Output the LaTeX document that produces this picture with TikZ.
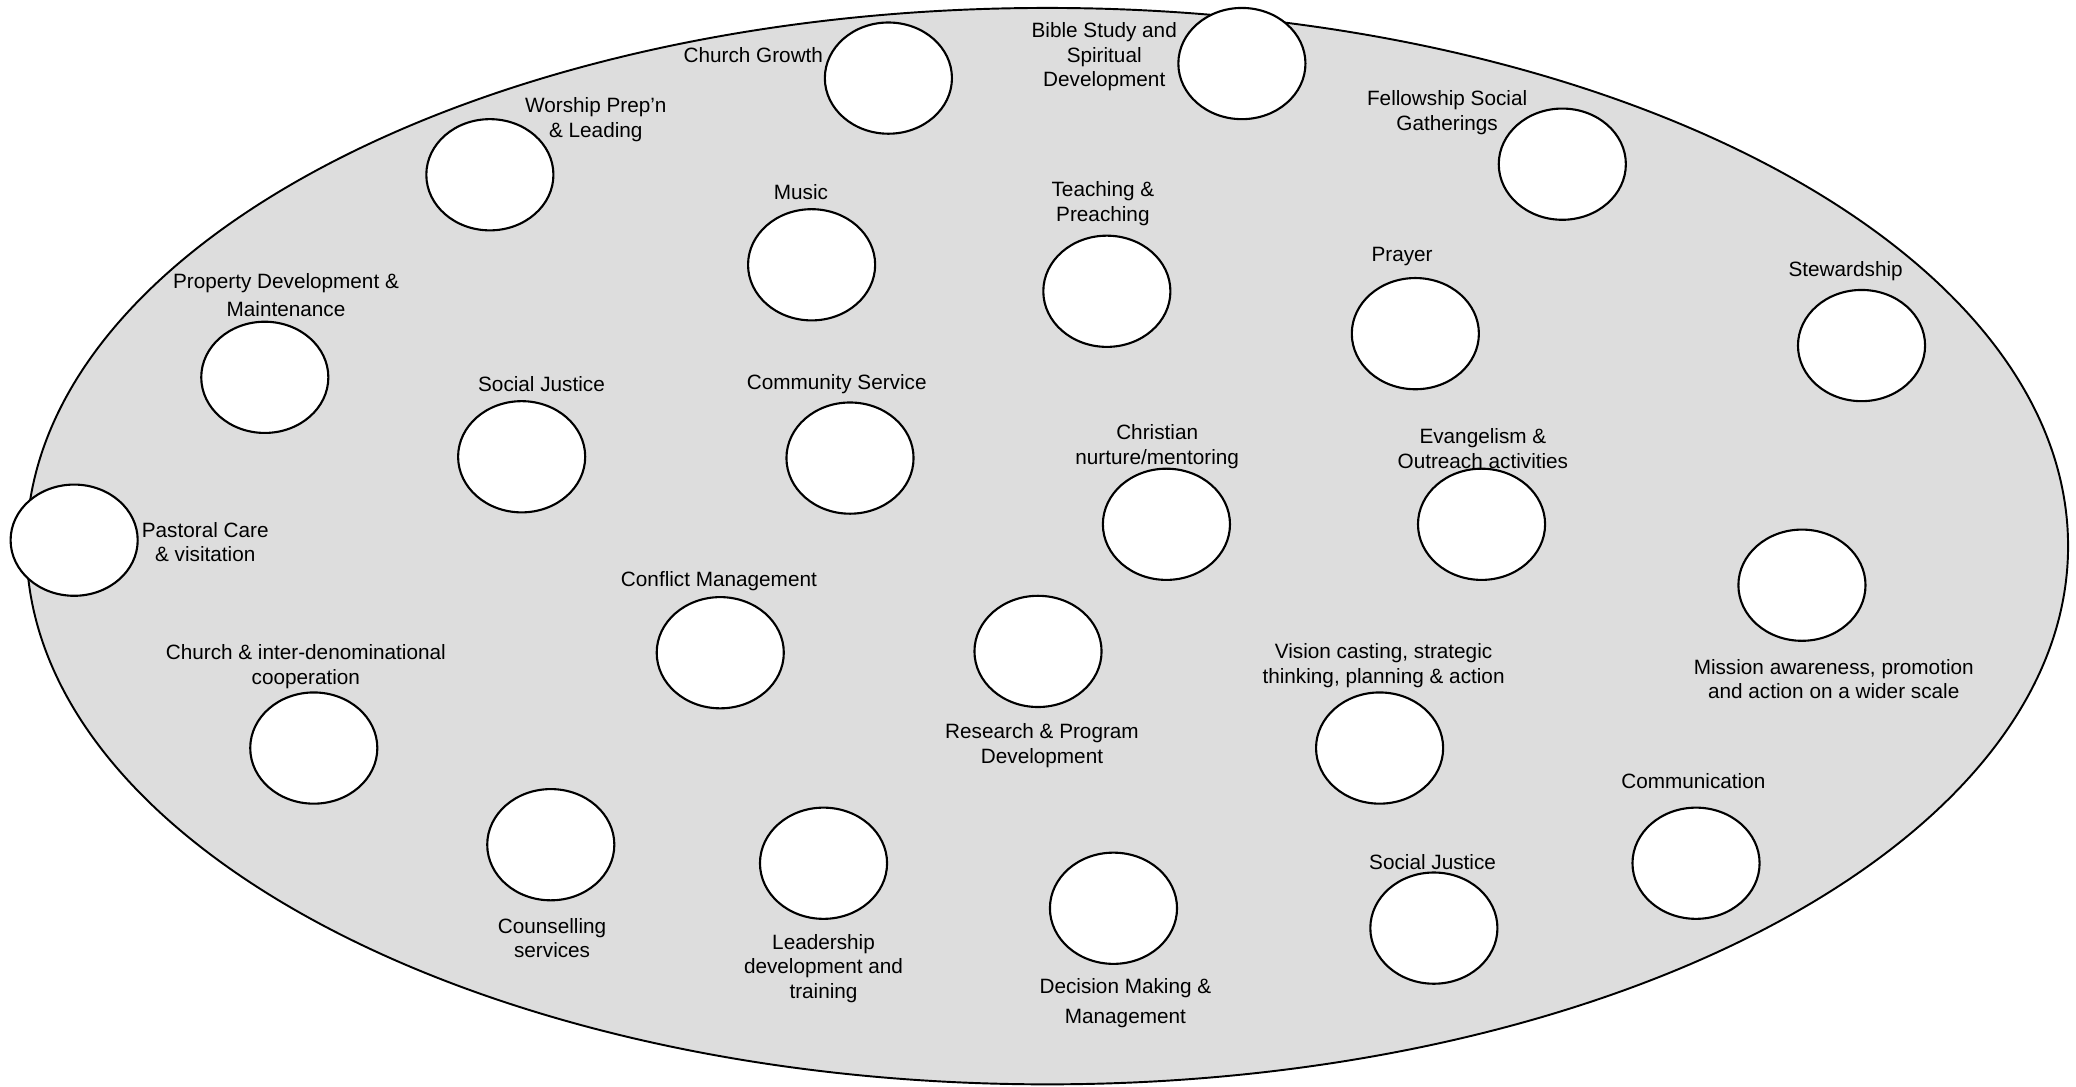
\documentclass[tikz,border=0pt]{standalone}
\usepackage{fontspec}
\setmainfont{Liberation Sans}
\usetikzlibrary{shapes.geometric}
\definecolor{fieldgray}{HTML}{DDDDDD}
\tikzset{
  field/.style={ellipse, draw=black, fill=fieldgray, line width=0.55pt, inner sep=0pt,
    minimum width=1542*0.01324cm, minimum height=813*0.01324cm},
  spot/.style={ellipse, draw=black, fill=white, line width=0.6pt, inner sep=0pt,
    minimum width=96*0.01324cm, minimum height=84*0.01324cm},
  lab/.style={align=center, inner sep=0pt, yshift=-0.025cm, font=\fontsize{5.9}{7}\selectfont}
}
\begin{document}
\begin{tikzpicture}[x=0.01324cm, y=-0.01324cm]
\useasboundingbox (0,0) rectangle (1568,821);
\node[field] (field) at (791,412.5) {};
% circles
\node[spot] (ccg) at (671,59) {};
\node[spot] (cbs) at (938,48) {};
\node[spot] (cwp) at (370,132) {};
\node[spot] (cfs) at (1180,124) {};
\node[spot] (cmu) at (613,200) {};
\node[spot] (ctp) at (836,220) {};
\node[spot] (cpr) at (1069,252) {};
\node[spot] (cst) at (1406,261) {};
\node[spot] (cpd) at (200,285) {};
\node[spot] (csja) at (394,345) {};
\node[spot] (ccs) at (642,346) {};
\node[spot] (ccn) at (881,396) {};
\node[spot] (cev) at (1119,396) {};
\node[spot] (cpc) at (56,408) {};
\node[spot] (cma) at (1361,442) {};
\node[spot] (ccm) at (544,493) {};
\node[spot] (crp) at (784,492) {};
\node[spot] (cci) at (237,565) {};
\node[spot] (cvc) at (1042,565) {};
\node[spot] (cco) at (416,638) {};
\node[spot] (cld) at (622,652) {};
\node[spot] (ccmm) at (1281,652) {};
\node[spot] (cdm) at (841,686) {};
\node[spot] (csjb) at (1083,701) {};
% labels
\node[lab] (lcg) at (569,40) {Church Growth};
\node[lab] (lbs) at (834,41) {Bible Study and\\Spiritual\\Development};
\node[lab] (lwp) at (450,88.5) {Worship Prep’n\\\& Leading};
\node[lab] (lfs) at (1093,83) {Fellowship Social\\Gatherings};
\node[lab] (lmu) at (605,143) {Music};
\node[lab] (ltp) at (833,152) {Teaching \&\\Preaching};
\node[lab] (lpr) at (1059,192) {Prayer};
\node[lab] (lst) at (1394,203) {Stewardship};
\node[lab] (lpd) at (216,221) {Property Development \&\\[1.2pt]Maintenance};
\node[lab] (lsja) at (409,288) {Social Justice};
\node[lab] (lcs) at (632,288) {Community Service};
\node[lab] (lcn) at (874,335.5) {Christian\\nurture/mentoring};
\node[lab] (lev) at (1120,337) {Evangelism \&\\Outreach activities};
\node[lab] (lpc) at (155,407.5) {Pastoral Care\\\& visitation};
\node[lab] (lma) at (1385,511) {Mission awareness, promotion\\and action on a wider scale};
\node[lab] (lcm) at (543,437) {Conflict Management};
\node[lab] (lrp) at (787,561.5) {Research \& Program\\Development};
\node[lab] (lci) at (231,501.5) {Church \& inter-denominational\\cooperation};
\node[lab] (lvc) at (1045,501) {Vision casting, strategic\\thinking, planning \& action};
\node[lab] (lco) at (417,706.5) {Counselling\\services};
\node[lab] (lld) at (622,729.5) {Leadership\\development and\\training};
\node[lab] (lcmm) at (1279,588) {Communication};
\node[lab] (ldm) at (850,756) {Decision Making \&\\[1.5pt]Management};
\node[lab] (lsjb) at (1082,649) {Social Justice};
\end{tikzpicture}
\end{document}
